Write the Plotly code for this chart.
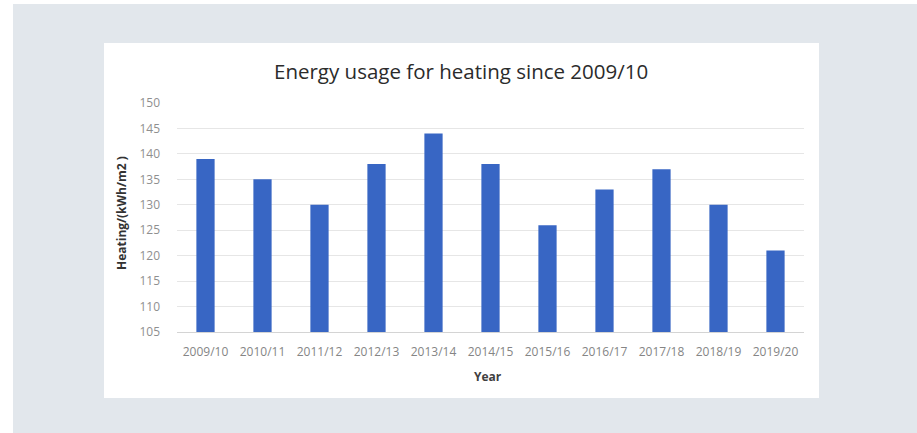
import plotly.graph_objects as go

# Heating energy use per heated floor area, by academic year
years = ["2009/10", "2010/11", "2011/12", "2012/13", "2013/14", "2014/15",
         "2015/16", "2016/17", "2017/18", "2018/19", "2019/20"]
heating_kwh_m2 = [139, 135, 130, 138, 144, 138, 126, 133, 137, 130, 121]
y_ticks = [105, 110, 115, 120, 125, 130, 135, 140, 145, 150]

W, H = 917, 433
# plot area in pixels
L, R, T, B = 177, 804, 103, 332


def px_x(p):
    return (p - L) / (R - L)


def px_y(p):
    return (B - p) / (B - T)


fig = go.Figure(
    go.Bar(
        x=years,
        y=heating_kwh_m2,
        marker=dict(color="#3866c4", line=dict(width=0)),
        width=0.32,
        hoverinfo="x+y",
    )
)

shapes = [
    # white card behind the chart
    dict(type="rect", xref="paper", yref="paper", layer="below",
         x0=px_x(104), x1=px_x(819), y0=px_y(398), y1=px_y(43),
         fillcolor="white", line=dict(width=0)),
    # white edges of the page
    dict(type="rect", xref="paper", yref="paper", layer="below",
         x0=px_x(0), x1=px_x(13), y0=px_y(H), y1=px_y(0),
         fillcolor="white", line=dict(width=0)),
    dict(type="rect", xref="paper", yref="paper", layer="below",
         x0=px_x(0), x1=px_x(W), y0=px_y(4), y1=px_y(0),
         fillcolor="white", line=dict(width=0)),
]

annotations = [
    dict(text="Energy usage for heating since 2009/10", xref="paper", yref="paper",
         x=px_x(461), y=px_y(71), xanchor="center", yanchor="middle",
         showarrow=False, font=dict(family="Open Sans", size=20.5, color="#2b2b2b")),
    dict(text="<b>Heating/(kWh/m2 )</b>", xref="paper", yref="paper",
         x=px_x(121), y=px_y(213), xanchor="center", yanchor="middle",
         textangle=-90, showarrow=False,
         font=dict(family="Open Sans", size=12, color="#333333")),
    dict(text="<b>Year</b>", xref="paper", yref="paper",
         x=px_x(488), y=px_y(376), xanchor="center", yanchor="middle",
         showarrow=False, font=dict(family="Open Sans", size=12, color="#404040")),
]

fig.update_layout(
    width=W, height=H,
    margin=dict(l=L, r=W - R, t=T, b=H - B, pad=0),
    paper_bgcolor="#e2e7ec",
    plot_bgcolor="rgba(0,0,0,0)",
    showlegend=False,
    shapes=shapes,
    annotations=annotations,
    bargap=0.68,
)

fig.update_xaxes(
    type="category",
    showgrid=False,
    showline=True, linecolor="#d4d4d4", linewidth=1,
    ticks="",
    tickfont=dict(family="Open Sans", size=12, color="#858585"),
    ticklabelstandoff=9,
)

fig.update_yaxes(
    range=[105, 150],
    tickvals=y_ticks,
    showgrid=True, gridcolor="#e6e6e6", gridwidth=1,
    zeroline=False,
    showline=False,
    ticks="",
    tickfont=dict(family="Open Sans", size=12, color="#8f8f8f"),
    ticklabelstandoff=16,
)

fig.write_html("out.html")
